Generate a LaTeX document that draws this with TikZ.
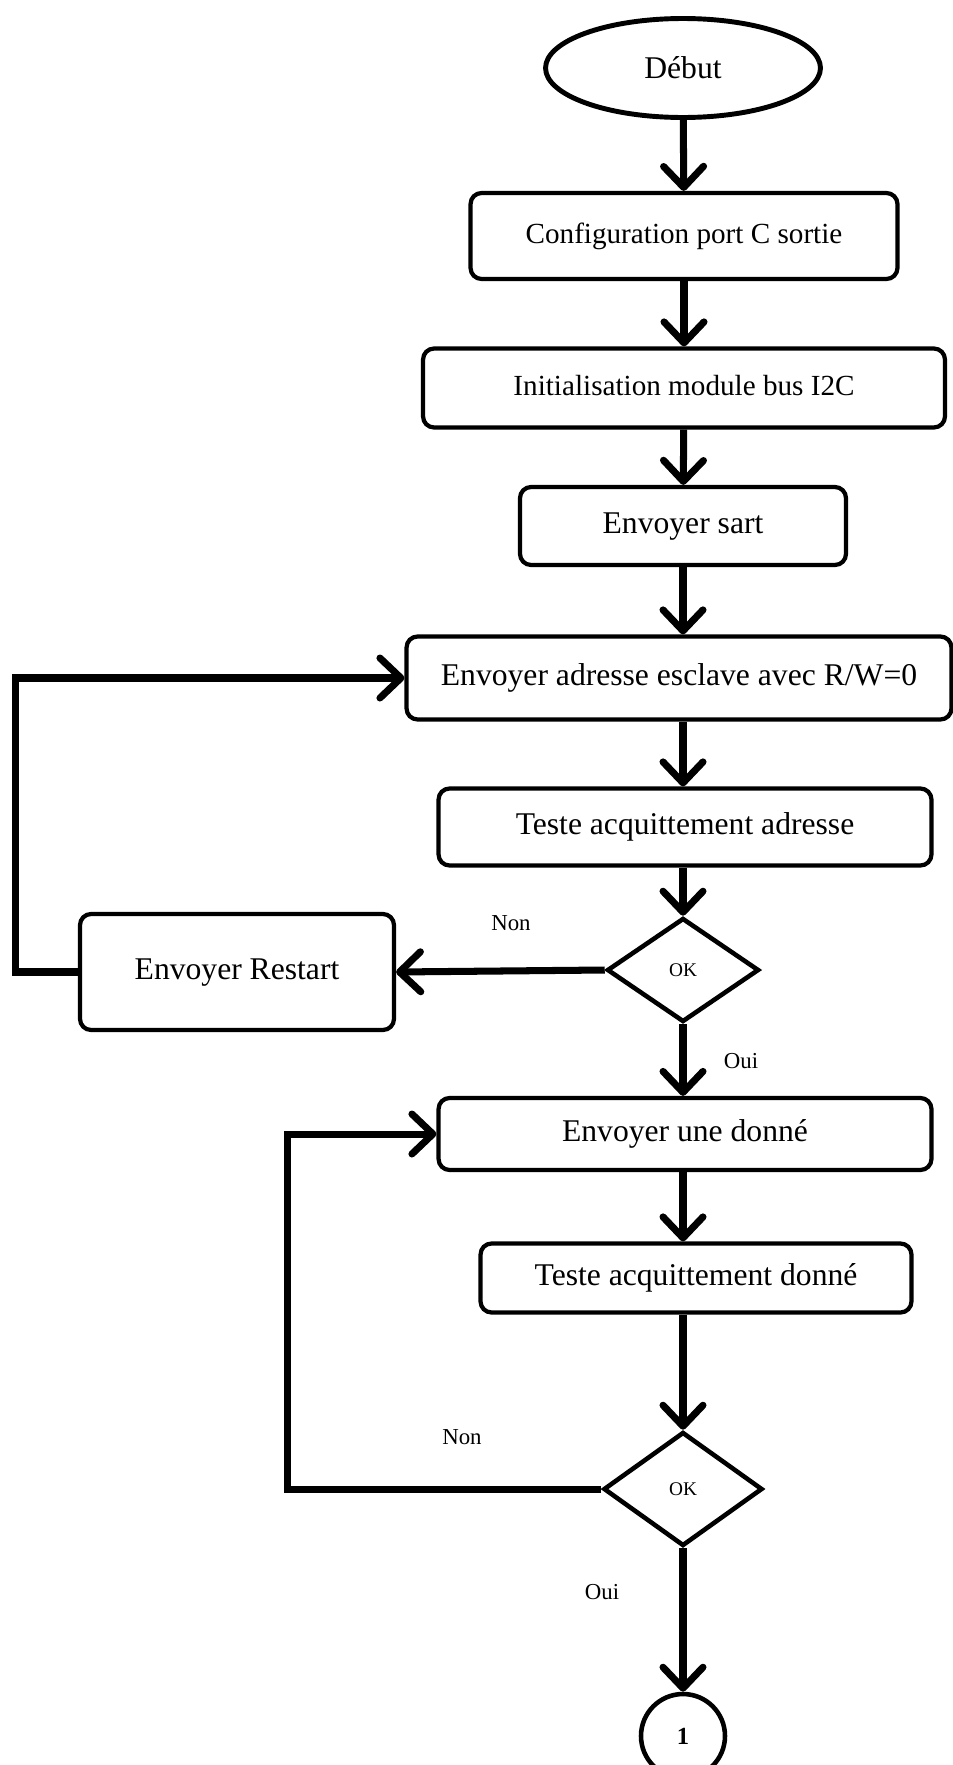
\documentclass[tikz,border=0pt]{standalone}
\usepackage{fontspec}
\setmainfont{Liberation Serif}
\usetikzlibrary{arrows.meta,shapes.geometric}
\newcommand{\grandfont}{\fontsize{18pt}{21pt}\selectfont}
\newcommand{\moyenfont}{\fontsize{16.6pt}{19pt}\selectfont}
\newcommand{\okfont}{\fontsize{11pt}{13pt}\selectfont}
\newcommand{\labelfont}{\fontsize{13pt}{15pt}\selectfont}

\begin{document}
\begin{tikzpicture}[x=0.02cm,y=-0.02cm,
  box/.style={draw,line width=2.4pt,rounded corners=0.22cm,inner sep=0pt,text height=0.9em,text depth=0.1em,font=\grandfont},
  test/.style={draw,diamond,line width=2.6pt,inner sep=0pt,font=\okfont},
  arr/.style={line width=4pt,-{Straight Barb[round,length=0.42cm,width=0.8cm]}},
  lbl/.style={font=\labelfont}]
\useasboundingbox (0,0) rectangle (953,1765);
%draw the nodes of the chart
\node[draw,ellipse,line width=2.8pt,minimum width=5.5cm,minimum height=1.98cm,font=\grandfont] (start) at (683,68) {Début};
\node[box,minimum width=8.54cm,minimum height=1.72cm,font=\moyenfont] (conf) at (684,236) {Configuration port C sortie};
\node[box,minimum width=10.44cm,minimum height=1.58cm,font=\moyenfont] (init) at (684,388) {Initialisation module bus I2C};
\node[box,minimum width=6.52cm,minimum height=1.56cm] (sart) at (683,526) {Envoyer sart};
\node[box,minimum width=10.9cm,minimum height=1.66cm] (adr) at (679,678) {Envoyer adresse esclave avec R/W=0};
\node[box,minimum width=9.86cm,minimum height=1.54cm] (ackadr) at (685,827) {Teste acquittement adresse};
\node[test,minimum width=3.04cm,minimum height=2.08cm] (ok1) at (683,970) {OK};
\node[box,minimum width=6.28cm,minimum height=2.32cm] (restart) at (237,972) {Envoyer Restart};
\node[box,minimum width=9.86cm,minimum height=1.44cm] (data) at (685,1134) {Envoyer une donné};
\node[box,minimum width=8.62cm,minimum height=1.38cm] (ackdata) at (696,1278) {Teste acquittement donné};
\node[test,minimum width=3.18cm,minimum height=2.28cm] (ok2) at (683,1489) {OK};
\node[draw,circle,line width=2.6pt,minimum size=1.68cm,inner sep=0pt,font=\fontsize{14pt}{16pt}\selectfont\bfseries] (fin) at (683,1736) {1};
%labels of the branches
\node[lbl] (non1) at (511,923) {Non};
\node[lbl] (oui1) at (741,1061) {Oui};
\node[lbl] (non2) at (462,1437) {Non};
\node[lbl] (oui2) at (602,1592) {Oui};
% draw arrows
\draw[arr] (start) -- (conf);
\draw[arr] (conf) -- (init);
\draw[arr] (init) -- (sart);
\draw[arr] (sart.south) -- (sart.south |- adr.north);
\draw[arr] (sart.south |- adr.south) -- (ackadr.north -| sart.south);
\draw[arr] (ackadr.south -| ok1.north) -- (ok1.north);
\draw[arr] (ok1.west) -- (restart.east);
\draw[arr] (restart.west) -- ++(-62,0) |- (adr.west);
\draw[arr] (ok1.south) -- (data.north -| ok1.south);
\draw[arr] (data.south -| ok1.south) -- (ackdata.north -| ok1.south);
\draw[arr] (ackdata.south -| ok2.north) -- (ok2.north);
\draw[arr] (ok2.west) -- ++(-314,0) |- (data.west);
\draw[arr] (ok2) -- (fin);
\end{tikzpicture}
\end{document}
